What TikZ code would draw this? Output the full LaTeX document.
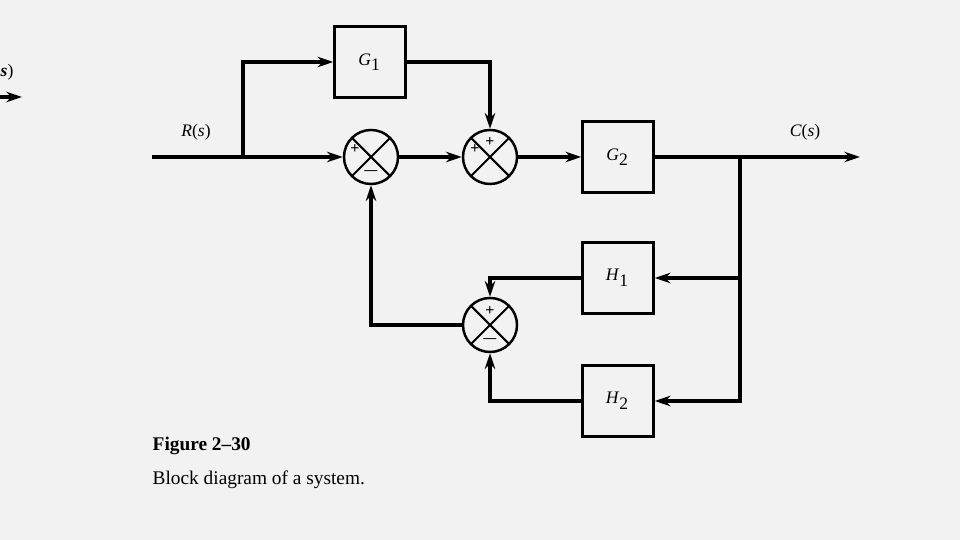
\documentclass[tikz,border=0pt]{standalone}
\usepackage{fontspec}
\setmainfont{Liberation Serif}
\usetikzlibrary{arrows.meta}
\begin{document}
\begin{tikzpicture}[x=0.01cm,y=-0.01cm,
  lbl/.style={font=\fontsize{5}{6}\selectfont,inner sep=0pt},
  blk/.style={draw,line width=0.7pt,minimum width=0.71cm,minimum height=0.71cm,inner sep=0pt,font=\fontsize{5}{6}\selectfont},
  sumj/.style={draw,circle,line width=0.7pt,minimum size=0.54cm,inner sep=0pt,
    path picture={\draw[line width=0.6pt] (path picture bounding box.south west)--(path picture bounding box.north east)
      (path picture bounding box.north west)--(path picture bounding box.south east);}},
  sig/.style={font=\fontsize{4.5}{5}\selectfont\bfseries,inner sep=0pt},
  wire/.style={line width=1pt},
  arr/.style={wire,-{Stealth[length=4.5pt,width=3pt]}}]
\fill[gray!10] (0,0) rectangle (960,540);
\useasboundingbox (0,0) rectangle (960,540);
\node[blk] (g1) at (370,62) {\textit{G}\textsubscript{1}};
\node[blk] (g2) at (618,157) {\textit{G}\textsubscript{2}};
\node[blk] (h1) at (618,278) {\textit{H}\textsubscript{1}};
\node[blk] (h2) at (618,401) {\textit{H}\textsubscript{2}};
\node[sumj] (s1) at (371,157) {};
\node[sumj] (s2) at (490,157) {};
\node[sumj] (s3) at (490,325) {};
\node[sig] at (355,149) {+}; \node[sig] at (371,171) {$-$};
\node[sig] at (490,142) {+}; \node[sig] at (475,149) {+};
\node[sig] at (490,311) {+}; \node[sig] at (490,339) {$-$};
\coordinate (in) at (152,157);
\coordinate (b1) at (243,157);
\coordinate (out) at (860,157);
\coordinate (b2) at (740,157);
\draw[arr] (in) -- (s1);
\draw[arr] (b1) |- (g1);
\draw[arr] (g1) -| (s2);
\draw[arr] (s1) -- (s2);
\draw[arr] (s2) -- (g2);
\draw[arr] (g2) -- (out);
\draw[arr] (b2) |- (h1);
\draw[arr] (b2) |- (h2);
\draw[arr] (h1) -| (s3);
\draw[arr] (h2) -| (s3);
\draw[arr] (s3) -| (s1);
\node[lbl] (r) at (196,132) {\textit{R}(\textit{s})};
\node[lbl] (c) at (805,132) {\textit{C}(\textit{s})};
\node[lbl,anchor=west] (sl) at (0,72) {\textbf{\textit{s}})};
\coordinate (la) at (0,97); \coordinate (lb) at (22,97);
\draw[arr] (la) -- (lb);
\node[anchor=west,font=\fontsize{5.5}{6}\selectfont\bfseries,inner sep=0pt] (f) at (152,446) {Figure 2–30};
\node[anchor=west,font=\fontsize{5.5}{6}\selectfont,inner sep=0pt] (cap) at (152,480) {Block diagram of a system.};
\end{tikzpicture}
\end{document}
